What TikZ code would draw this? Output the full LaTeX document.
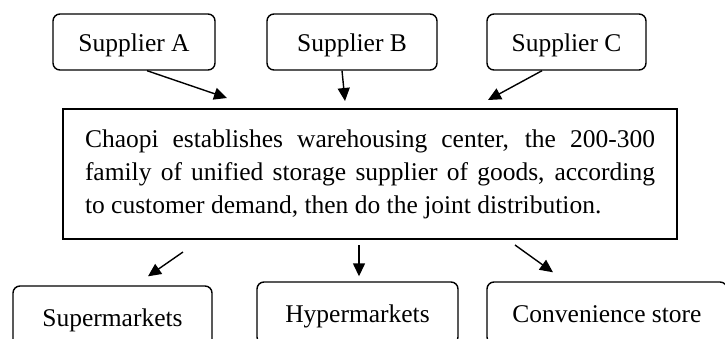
\documentclass[tikz,border=0pt]{standalone}
\usepackage{fontspec}
\setmainfont{Liberation Serif}
\usetikzlibrary{arrows.meta}

\begin{document}
\begin{tikzpicture}[
x=1pt,y=-1pt,
box/.style={draw,line width=1.4pt,rounded corners=7pt,minimum height=56pt,inner sep=0pt,text height=18pt,text depth=0pt,font=\fontsize{25.5}{30}\selectfont},
bigbox/.style={draw,line width=2pt,text width=570pt,inner xsep=22pt,inner ysep=0pt,minimum height=130pt,align=justify,font=\fontsize{25.5}{33}\selectfont},
arrow/.style={-{Triangle[length=13pt,width=12pt]},line width=1.4pt}
]
\useasboundingbox (0,0) rectangle (725,338);
% suppliers
\node[box,minimum width=162pt] (supA) at (134,42) {Supplier A};
\node[box,minimum width=170pt] (supB) at (352,42) {Supplier B};
\node[box,minimum width=159pt] (supC) at (566.5,42) {Supplier C};
% warehousing center
\node[bigbox] (center) at (370,174) {Chaopi establishes warehousing center, the 200-300\linebreak
family of unified storage supplier of goods, according\linebreak
to customer demand, then do the joint distribution.};
% stores
\node[box,minimum width=199pt,minimum height=62pt] (super) at (112.5,317) {Supermarkets};
\node[box,minimum width=201pt,minimum height=62pt] (hyper) at (357.5,313) {Hypermarkets};
\node[box,minimum width=240pt,minimum height=62pt] (conv) at (607,313) {Convenience store};
\draw[arrow] ([xshift=13pt]supA.south)--([xshift=-143pt,yshift=10pt]center.north);
\draw[arrow] ([xshift=-10pt]supB.south)--([xshift=-25pt,yshift=7pt]center.north);
\draw[arrow] ([xshift=-24.5pt]supC.south)--([xshift=118pt,yshift=8pt]center.north);
\draw[arrow] ([xshift=-187pt,yshift=-12pt]center.south)--([xshift=35.5pt,yshift=9pt]super.north);
\draw[arrow] ([xshift=-11pt,yshift=-5pt]center.south)--([xshift=1.5pt,yshift=5pt]hyper.north);
\draw[arrow] ([xshift=145pt,yshift=-5pt]center.south)--([xshift=-54pt,yshift=9pt]conv.north);
\end{tikzpicture}
\end{document}
